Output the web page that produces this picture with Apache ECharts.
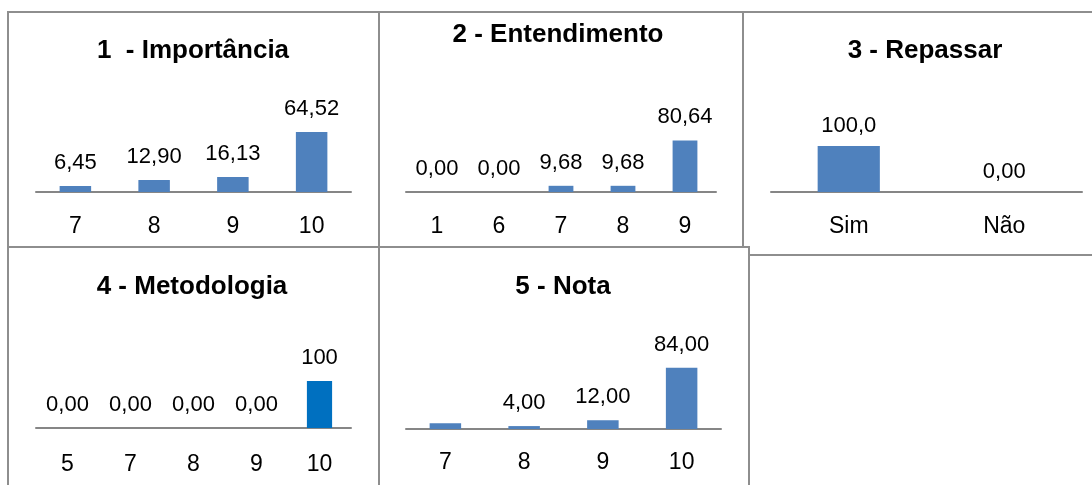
<!DOCTYPE html>
<html>
<head>
<meta charset="utf-8">
<script src="https://cdn.jsdelivr.net/npm/echarts@6/dist/echarts.min.js"></script>
<style>
html,body{margin:0;padding:0;background:#fff;}
#c{width:1092px;height:485px;}
</style>
</head>
<body>
<div id="c"></div>
<script>
// ---- data ----
const titles = ['1  - Importância', '2 - Entendimento', '3 - Repassar', '4 - Metodologia', '5 - Nota'];

const cat1 = ['7', '8', '9', '10'];
const val1 = [6.45, 12.90, 16.13, 64.52];
const lab1 = ['6,45', '12,90', '16,13', '64,52'];

const cat2 = ['1', '6', '7', '8', '9'];
const val2 = [0, 0, 9.68, 9.68, 80.64];
const lab2 = ['0,00', '0,00', '9,68', '9,68', '80,64'];

const cat3 = ['Sim', 'Não'];
const val3 = [100, 0];
const lab3 = ['100,0', '0,00'];

const cat4 = ['5', '7', '8', '9', '10'];
const val4 = [0, 0, 0, 0, 100];
const lab4 = ['0,00', '0,00', '0,00', '0,00', '100'];

const cat5 = ['7', '8', '9', '10'];
const val5 = [8, 4, 12, 84];
const lab5 = ['', '4,00', '12,00', '84,00'];

// ---- layout / style ----
const panels = [
  {cats: cat1, vals: val1, labs: lab1, grid: {left: 36, top: 127, width: 315, height: 65}, max: 70, color: '#4f81bd', title: [193, 51], dist: 12, margin: 23},
  {cats: cat2, vals: val2, labs: lab2, grid: {left: 406, top: 128, width: 310, height: 64}, max: 100, color: '#4f81bd', title: [558, 35], dist: 12, margin: 23},
  {cats: cat3, vals: val3, labs: lab3, grid: {left: 771, top: 146, width: 311, height: 46}, max: 100, color: '#4f81bd', title: [925, 51], dist: 9, margin: 23},
  {cats: cat4, vals: val4, labs: lab4, grid: {left: 36, top: 381, width: 315, height: 47}, max: 100, color: '#0070c0', title: [192, 287], dist: 12, margin: 25},
  {cats: cat5, vals: val5, labs: lab5, grid: {left: 406, top: 356, width: 315, height: 73}, max: 100, color: '#4f81bd', title: [563, 287], dist: 12, margin: 22}
];

const regular = "'Liberation Sans', Arial, sans-serif";
const borderColor = '#8e8e8e';

function line(x1, y1, x2, y2) {
  return {type: 'line', silent: true, shape: {x1, y1, x2, y2}, style: {stroke: borderColor, lineWidth: 2}};
}

const option = {
  animation: false,
  backgroundColor: '#ffffff',
  title: panels.map((p, i) => ({
    text: titles[i],
    left: p.title[0],
    top: p.title[1],
    textAlign: 'center',
    textVerticalAlign: 'middle',
    padding: 0,
    textStyle: {fontFamily: regular, fontWeight: 'bold', fontSize: 26, color: '#000'}
  })),
  grid: panels.map(p => Object.assign({containLabel: false}, p.grid)),
  xAxis: panels.map((p, i) => ({
    type: 'category',
    gridIndex: i,
    data: p.cats,
    axisTick: {show: false},
    axisLine: {show: true, lineStyle: {color: '#868686', width: 2}},
    axisLabel: {fontFamily: regular, fontSize: 23, color: '#000', margin: p.margin, interval: 0}
  })),
  yAxis: panels.map((p, i) => ({
    type: 'value',
    gridIndex: i,
    min: 0,
    max: p.max,
    show: false,
    splitLine: {show: false}
  })),
  series: panels.map((p, i) => ({
    type: 'bar',
    xAxisIndex: i,
    yAxisIndex: i,
    data: p.vals,
    barWidth: '40%',
    itemStyle: {color: p.color},
    label: {
      show: true,
      position: 'top',
      distance: p.dist,
      fontFamily: regular,
      fontSize: 22,
      color: '#000',
      formatter: (q) => p.labs[q.dataIndex]
    }
  })),
  graphic: [
    line(7, 12, 1092, 12),
    line(8, 11, 8, 485),
    line(379, 11, 379, 485),
    line(743, 11, 743, 248),
    line(7, 247, 750, 247),
    line(749, 246, 749, 485),
    line(748, 255, 1092, 255)
  ]
};

const chart = echarts.init(document.getElementById('c'), null, {renderer: 'canvas'});
chart.setOption(option);
</script>
</body>
</html>
